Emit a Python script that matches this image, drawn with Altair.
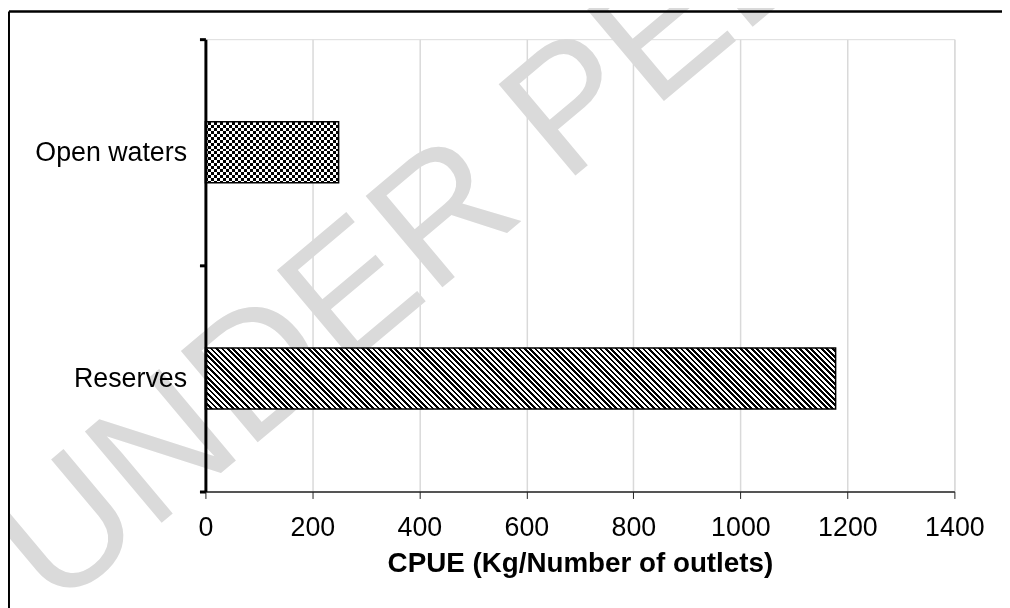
import math
import altair as alt
import pandas as pd

# ---- data ----
categories = ["Open waters", "Reserves"]
cpue = [249, 1178]
x_ticks = [0, 200, 400, 600, 800, 1000, 1200, 1400]
x_title = "CPUE (Kg/Number of outlets)"
watermark = "UNDER PEER REVIEW"

df = pd.DataFrame({"site": categories, "cpue": cpue})
wm = pd.DataFrame({"t": [watermark]})

# ---- layout ----
W, H = 755, 456
BAR_FRAC = 0.27
XMAX = 1400
FONT = "Liberation Sans"
FS = 27

step = H / len(categories)
bw = step * BAR_FRAC


def stripe_stops(n, c_a, c_b, duty=0.5):
    stops = []
    for i in range(int(math.ceil(n))):
        a = min(i / n, 1.0)
        m = min((i + duty) / n, 1.0)
        b = min((i + 1) / n, 1.0)
        stops += [
            {"offset": a, "color": c_a},
            {"offset": m, "color": c_a},
            {"offset": m, "color": c_b},
            {"offset": b, "color": c_b},
        ]
    return stops


# checkerboard for "Open waters" (vertical stripes XOR horizontal stripes)
w_open = cpue[0] / XMAX * W
cell = 3.0
grad_v = {"gradient": "linear", "x1": 0, "y1": 0, "x2": 1, "y2": 0,
          "stops": stripe_stops(w_open / (2 * cell), "black", "white")}
grad_h = {"gradient": "linear", "x1": 0, "y1": 0, "x2": 0, "y2": 1,
          "stops": stripe_stops(bw / (2 * cell), "white", "black")}

# downward diagonal stripes for "Reserves"
w_res = cpue[1] / XMAX * W
r = bw / w_res
k = (w_res + bw) / (w_res * (1 + r * r))
n_diag = 128
grad_d = {"gradient": "linear", "x1": 0, "y1": 1, "x2": k, "y2": 1 - k * r,
          "stops": stripe_stops(n_diag, "black", "white")}

x_enc = alt.X(
    "cpue:Q",
    scale=alt.Scale(domain=[0, XMAX], nice=False),
    axis=alt.Axis(
        values=x_ticks, format="d", title=x_title, grid=True, gridColor="#d9d9d9",
        gridWidth=1.5, domainColor="#222222", domainWidth=1.5, tickColor="#222222",
        tickWidth=1, tickSize=7, labelFontSize=FS, labelFont=FONT, labelColor="black",
        labelPadding=16, titleFontSize=28, titleFont=FONT, titleFontWeight="bold",
        titleColor="black", titlePadding=10, labelFlush=False,
    ),
)
y_enc = alt.Y(
    "site:N",
    scale=alt.Scale(domain=categories, paddingInner=0, paddingOuter=0),
    axis=alt.Axis(
        title=None, domainColor="black", domainWidth=3, tickColor="black", tickWidth=3,
        tickSize=6, tickBand="extent", labelFontSize=FS, labelFont=FONT,
        labelColor="black", labelPadding=13, zindex=1,
    ),
)

base = alt.Chart(df)
band_h = {"band": BAR_FRAC}

watermark_layer = alt.Chart(wm).mark_text(
    align="left", baseline="alphabetic", angle=320, fontSize=175, font=FONT,
    color="#dadada",
).encode(text="t:N", x=alt.value(-152), y=alt.value(578))

frame_top = alt.Chart(wm).mark_rule(color="black", strokeWidth=2.5).encode(
    x=alt.value(-198), x2=alt.value(810), y=alt.value(-28))
frame_left = alt.Chart(wm).mark_rule(color="black", strokeWidth=2).encode(
    x=alt.value(-198), y=alt.value(-28), y2=alt.value(600))

open_base = base.transform_filter(alt.datum.site == categories[0]).mark_bar(
    fill=grad_v, strokeWidth=0, height=band_h).encode(x=x_enc, y=y_enc)
open_over = base.transform_filter(alt.datum.site == categories[0]).mark_bar(
    fill=grad_h, strokeWidth=0, blend="difference", height=band_h).encode(x=x_enc, y=y_enc)
res_bar = base.transform_filter(alt.datum.site == categories[1]).mark_bar(
    fill=grad_d, strokeWidth=0, height=band_h).encode(x=x_enc, y=y_enc)
outline = base.mark_bar(fill="transparent", stroke="black", strokeWidth=1.5,
                        height=band_h).encode(x=x_enc, y=y_enc)

chart = alt.layer(
    watermark_layer, open_base, open_over, res_bar, outline, frame_top, frame_left
).properties(
    width=W, height=H, autosize=alt.AutoSizeParams(type="none"),
    padding={"left": 199, "top": 29, "right": 48, "bottom": 115},
).configure_view(stroke=None).configure(background="white")

chart.save("out.html", embed_options={"renderer": "svg", "actions": False})
